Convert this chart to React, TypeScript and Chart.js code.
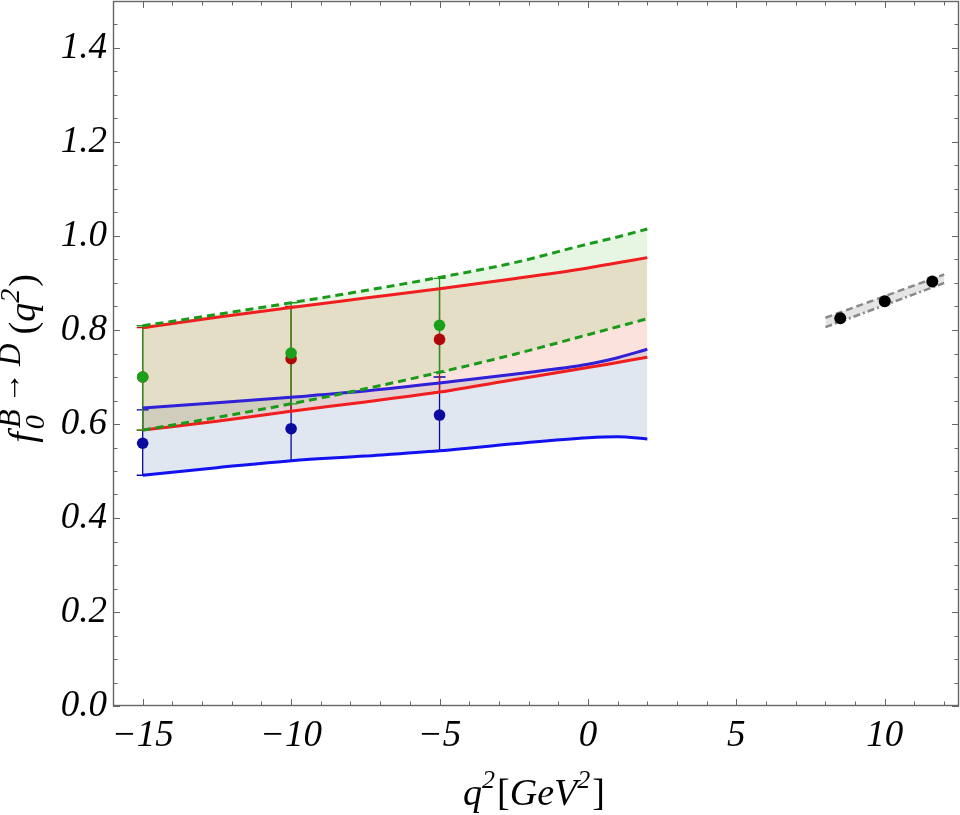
import { useEffect, useRef } from "react";
import { Chart, registerables } from "chart.js";
import type { Plugin } from "chart.js";

Chart.register(...registerables);

const bandX = [-15, -12.5, -10, -7.5, -5, -2.5, 0, 1, 2];
const greenUpper = [0.809, 0.833, 0.858, 0.884, 0.912, 0.943, 0.983, 0.998, 1.015];
const greenLower = [0.587, 0.614, 0.643, 0.675, 0.71, 0.748, 0.79, 0.807, 0.824];
const redUpper = [0.805, 0.827, 0.848, 0.868, 0.888, 0.909, 0.932, 0.943, 0.954];
const redLower = [0.587, 0.606, 0.627, 0.647, 0.668, 0.694, 0.72, 0.731, 0.742];
const blueUpper = [0.634, 0.645, 0.657, 0.67, 0.687, 0.706, 0.727, 0.741, 0.759];
const blueLower = [0.491, 0.507, 0.522, 0.532, 0.543, 0.558, 0.571, 0.573, 0.568];

// lattice band at high q^2
const latticeX = [8, 12];
const latticeUpper = [0.826, 0.918];
const latticeLower = [0.806, 0.9];

// points with error bars
const pointX = [-15, -10, -5];
const greenY = [0.7, 0.751, 0.81];
const greenLo = [0.587, 0.643, 0.71];
const greenHi = [0.809, 0.858, 0.91];
const redY = [0.7, 0.739, 0.78];
const redLo = [0.587, 0.627, 0.668];
const redHi = [0.805, 0.85, 0.888];
const blueY = [0.559, 0.59, 0.619];
const blueLo = [0.491, 0.522, 0.542];
const blueHi = [0.63, 0.657, 0.7];

const blackX = [8.5, 10, 11.6];
const blackY = [0.825, 0.861, 0.903];

const xMajorTicks = [-15, -10, -5, 0, 5, 10];
const yMajorTicks = [0, 0.2, 0.4, 0.6, 0.8, 1.0, 1.2, 1.4];

const SERIF = "'Liberation Serif', 'Times New Roman', serif";

const pts = (xs: number[], ys: number[]) => xs.map((x, i) => ({ x, y: ys[i] }));

const errorSets = [
  { ys: blueY, lo: blueLo, hi: blueHi, color: "#0a0aa0" },
  { ys: redY, lo: redLo, hi: redHi, color: "#c01010" },
  { ys: greenY, lo: greenLo, hi: greenHi, color: "#1a9a1a" },
];

const errorBars: Plugin<"line"> = {
  id: "errorBars",
  beforeDatasetsDraw(chart) {
    const { ctx, scales } = chart;
    ctx.save();
    ctx.lineWidth = 1.3;
    for (const set of errorSets) {
      ctx.strokeStyle = set.color;
      pointX.forEach((x, i) => {
        const px = scales.x.getPixelForValue(x);
        const top = scales.y.getPixelForValue(set.hi[i]);
        const bot = scales.y.getPixelForValue(set.lo[i]);
        ctx.beginPath();
        ctx.moveTo(px, top);
        ctx.lineTo(px, bot);
        ctx.moveTo(px - 6, top);
        ctx.lineTo(px + 6, top);
        ctx.moveTo(px - 6, bot);
        ctx.lineTo(px + 6, bot);
        ctx.stroke();
      });
    }
    ctx.restore();
  },
};

const frameTicks: Plugin<"line"> = {
  id: "frameTicks",
  afterDraw(chart) {
    const { ctx, chartArea: a, scales } = chart;
    ctx.save();
    ctx.strokeStyle = "#666";
    ctx.lineWidth = 1;
    ctx.beginPath();
    for (let v = -16; v <= 12; v += 1) {
      const len = v % 5 === 0 ? 7 : 4.5;
      const px = Math.round(scales.x.getPixelForValue(v)) + 0.5;
      ctx.moveTo(px, a.bottom);
      ctx.lineTo(px, a.bottom - len);
      ctx.moveTo(px, a.top);
      ctx.lineTo(px, a.top + len);
    }
    for (let k = 0; k <= 30; k++) {
      const v = k * 0.05;
      const len = k % 4 === 0 ? 7 : 4.5;
      const py = Math.round(scales.y.getPixelForValue(v)) + 0.5;
      ctx.moveTo(a.left, py);
      ctx.lineTo(a.left + len, py);
      ctx.moveTo(a.right, py);
      ctx.lineTo(a.right - len, py);
    }
    ctx.stroke();
    ctx.lineWidth = 1.4;
    ctx.strokeRect(a.left + 0.5, a.top + 0.5, a.right - a.left - 1, a.bottom - a.top - 1);
    ctx.restore();
  },
};

type Run = { t: string; size: number; italic: boolean; shift: number; noAdvance?: boolean; gap?: number };

const drawRuns = (ctx: CanvasRenderingContext2D, runs: Run[]) => {
  const font = (r: Run) => `${r.italic ? "italic " : ""}${r.size}px ${SERIF}`;
  let total = 0;
  const widths = runs.map((r) => {
    ctx.font = font(r);
    return ctx.measureText(r.t).width;
  });
  runs.forEach((r, i) => {
    if (r.noAdvance) return;
    total += (r.gap || 0) + widths[i];
  });
  let x = -total / 2;
  runs.forEach((r, i) => {
    ctx.font = font(r);
    x += r.gap || 0;
    ctx.fillText(r.t, x, r.shift);
    if (!r.noAdvance) x += widths[i];
  });
};

const axisTitles: Plugin<"line"> = {
  id: "axisTitles",
  afterDraw(chart) {
    const { ctx } = chart;
    ctx.save();
    ctx.fillStyle = "#000";
    ctx.textBaseline = "alphabetic";
    ctx.textAlign = "left";
    ctx.translate(534, 805);
    drawRuns(ctx, [
      { t: "q", size: 38, italic: true, shift: 0 },
      { t: "2", size: 26, italic: true, shift: -17 },
      { t: "[", size: 38, italic: false, shift: 0, gap: 2 },
      { t: "GeV", size: 38, italic: true, shift: 0 },
      { t: "2", size: 26, italic: true, shift: -17 },
      { t: "]", size: 38, italic: false, shift: 0, gap: 2 },
    ]);
    ctx.restore();

    ctx.save();
    ctx.fillStyle = "#000";
    ctx.translate(35, 360);
    ctx.rotate(-Math.PI / 2);
    drawRuns(ctx, [
      { t: "f", size: 38, italic: true, shift: 0 },
      { t: "0", size: 28, italic: true, shift: 9, noAdvance: true, gap: 3 },
      { t: "B\u2009\u2192\u2009D", size: 31, italic: true, shift: -15, gap: 1 },
      { t: "(", size: 38, italic: false, shift: 0, gap: 9 },
      { t: "q", size: 38, italic: true, shift: 0 },
      { t: "2", size: 28, italic: true, shift: -16 },
      { t: ")", size: 38, italic: false, shift: 0, gap: 2 },
    ]);
    ctx.restore();
  },
};

const bandLine = (data: { x: number; y: number }[], color: string, extra: object = {}) => ({
  data,
  borderColor: color,
  borderWidth: 3,
  pointRadius: 0,
  cubicInterpolationMode: "monotone" as const,
  fill: false as false | number,
  ...extra,
});

export default function App() {
  const canvasRef = useRef<HTMLCanvasElement | null>(null);

  useEffect(() => {
    if (!canvasRef.current) return;
    const tickFont = { family: SERIF, size: 37, style: "italic" as const };
    const chart = new Chart(canvasRef.current, {
      type: "line",
      data: {
        datasets: [
          bandLine(pts(bandX, greenUpper), "#1a9a1a", { borderDash: [8, 5] }),
          bandLine(pts(bandX, greenLower), "#1a9a1a", {
            borderDash: [8, 5],
            fill: 0,
            backgroundColor: "rgba(120,200,100,0.18)",
          }),
          bandLine(pts(bandX, redUpper), "#f01e1e"),
          bandLine(pts(bandX, redLower), "#f01e1e", {
            fill: 2,
            backgroundColor: "rgba(240,110,80,0.2)",
          }),
          bandLine(pts(bandX, blueUpper), "#3020d8"),
          bandLine(pts(bandX, blueLower), "#1212f0", {
            fill: 4,
            backgroundColor: "rgba(90,120,180,0.18)",
          }),
          bandLine(pts(latticeX, latticeUpper), "#8a8a8a", { borderDash: [7, 4], borderWidth: 2.5 }),
          bandLine(pts(latticeX, latticeLower), "#8a8a8a", {
            borderDash: [7, 3, 2, 3],
            borderWidth: 2.5,
            fill: 6,
            backgroundColor: "rgba(170,170,170,0.3)",
          }),
          {
            data: pts(blackX, blackY),
            showLine: false,
            pointRadius: 6,
            pointBackgroundColor: "#000",
            pointBorderWidth: 0,
            order: -1,
          },
          {
            data: pts(pointX, blueY),
            showLine: false,
            pointRadius: 5.8,
            pointBackgroundColor: "#0a0aa0",
            pointBorderWidth: 0,
            order: -1,
          },
          {
            data: pts(pointX, redY),
            showLine: false,
            pointRadius: 5.8,
            pointBackgroundColor: "#b00808",
            pointBorderWidth: 0,
            order: -2,
          },
          {
            data: pts(pointX, greenY),
            showLine: false,
            pointRadius: 5.8,
            pointBackgroundColor: "#1aa01a",
            pointBorderWidth: 0,
            order: -3,
          },
        ],
      },
      options: {
        animation: false,
        responsive: true,
        maintainAspectRatio: false,
        layout: { autoPadding: false, padding: { top: 1, right: 1, left: 0, bottom: 0 } },
        plugins: {
          legend: { display: false },
          tooltip: { enabled: false },
          filler: { drawTime: "beforeDatasetsDraw" },
        },
        scales: {
          x: {
            type: "linear",
            min: -16,
            max: 12.5,
            grid: { display: false, drawTicks: false },
            border: { display: false },
            afterBuildTicks: (s) => {
              s.ticks = xMajorTicks.map((value) => ({ value }));
            },
            afterFit: (s) => {
              s.height = 109;
              s.paddingLeft = 0;
              s.paddingRight = 0;
            },
            ticks: {
              font: tickFont,
              color: "#000",
              padding: 8,
              maxRotation: 0,
              autoSkip: false,
              callback: (v) => (Number(v) < 0 ? "\u2212" + Math.abs(Number(v)) : String(v)),
            },
          },
          y: {
            type: "linear",
            min: 0,
            max: 1.5,
            grid: { display: false, drawTicks: false },
            border: { display: false },
            afterBuildTicks: (s) => {
              s.ticks = yMajorTicks.map((value) => ({ value }));
            },
            afterFit: (s) => {
              s.width = 113;
              s.paddingTop = 0;
              s.paddingBottom = 0;
            },
            ticks: {
              font: tickFont,
              color: "#000",
              padding: 6,
              autoSkip: false,
              callback: (v) => Number(v).toFixed(1),
            },
          },
        },
      },
      plugins: [errorBars, frameTicks, axisTitles],
    });
    return () => chart.destroy();
  }, []);

  return (
    <div style={{ position: "absolute", left: 0, top: 0, width: 960, height: 815, background: "#fff" }}>
      <canvas ref={canvasRef} role="img" aria-label="f0 B to D form factor versus q squared" />
    </div>
  );
}
